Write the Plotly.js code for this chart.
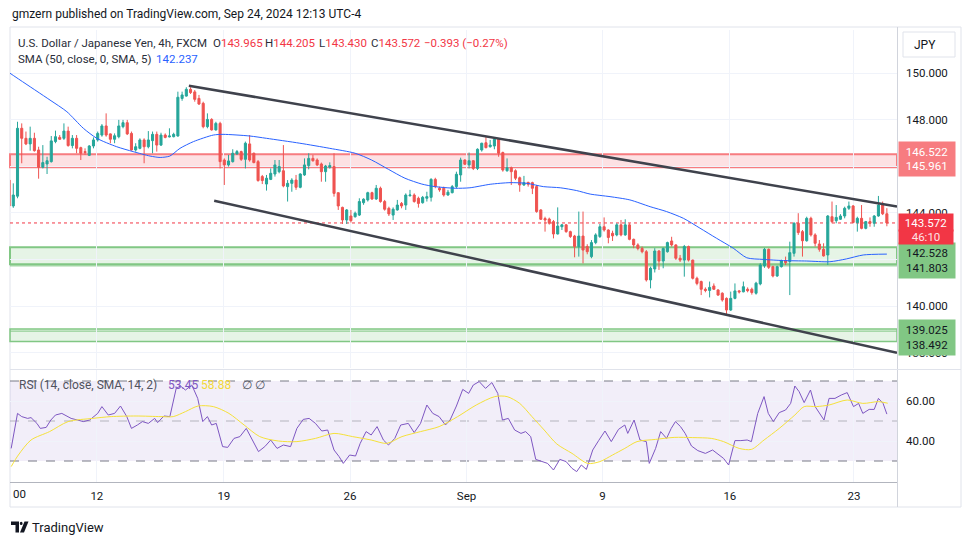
<!DOCTYPE html>
<html><head><meta charset="utf-8">
<script src="https://cdn.plot.ly/plotly-3.0.1.min.js"></script>
<style>html,body{margin:0;padding:0;background:#fff;}#chart{width:970px;height:545px;}</style>
</head><body><div id="chart"></div>
<script>
// ---------- DATA (USDJPY 4h, FXCM) ----------
const firstBar = -1; // first (partly hidden) candle index
const openP = [
145.41,144.30,144.72,147.63,147.20,146.96,147.20,146.70,145.96,146.10,
146.20,147.06,147.24,147.20,147.51,146.89,147.20,146.80,146.63,146.47,
146.87,147.13,147.34,147.73,147.39,147.16,147.27,147.70,147.87,147.41,
146.70,146.77,147.13,146.84,147.10,147.37,146.91,147.34,147.26,147.27,
147.30,148.91,149.01,149.30,149.19,148.91,148.70,147.70,148.01,147.56,
147.84,146.27,146.06,146.20,146.53,146.63,146.30,146.96,146.56,146.20,
145.56,145.24,145.44,145.67,145.77,145.81,145.13,145.27,145.41,145.10,
145.63,146.03,146.34,146.27,146.10,145.77,145.96,145.99,144.87,144.24,
143.70,143.87,143.84,143.91,144.44,144.56,144.87,144.60,145.06,144.49,
144.20,143.91,144.13,144.41,144.34,144.74,144.77,144.63,144.44,144.63,
144.67,145.44,145.06,145.06,144.77,144.87,145.13,145.63,146.27,146.06,
146.24,145.91,146.70,147.01,146.84,146.87,147.16,146.59,145.81,145.94,
145.81,145.51,145.20,145.31,145.30,145.13,144.13,143.76,143.74,143.63,
143.10,143.41,143.49,143.20,143.01,142.56,143.01,142.56,142.13,142.73,
142.99,143.41,143.27,143.13,143.06,143.49,143.06,143.49,142.87,142.63,
142.48,142.34,141.13,141.60,142.37,141.94,142.34,142.80,142.63,142.06,
141.98,142.56,141.98,141.20,141.06,140.73,140.68,140.87,140.70,140.56,
140.34,139.84,140.34,140.66,140.62,140.73,140.73,140.56,140.96,141.73,
142.44,141.70,141.30,141.70,141.96,141.92,142.27,143.56,143.20,142.81,
143.77,143.06,142.67,142.44,142.20,143.84,143.67,143.73,143.87,144.20,
144.30,143.59,143.77,143.34,143.63,143.56,143.87,144.34,143.965];
const highP = [
145.45,145.27,147.91,147.84,147.49,147.70,147.44,146.84,146.91,146.41,
147.30,147.53,147.34,147.84,147.70,147.34,147.34,146.84,146.77,146.91,
147.24,147.49,147.81,148.27,147.41,147.41,147.99,147.99,147.99,147.49,
146.99,147.20,147.20,147.51,147.49,147.49,147.44,147.41,147.63,147.44,
149.20,149.20,149.39,149.39,149.27,149.06,148.77,148.27,148.06,147.91,
147.91,146.34,146.49,146.73,146.70,146.67,147.06,147.34,146.59,146.27,
145.63,145.63,145.91,146.27,146.27,146.91,145.41,145.49,145.63,145.70,
146.34,146.56,146.49,146.34,146.16,146.06,146.17,146.56,144.87,144.27,
144.17,144.13,144.06,144.63,144.63,144.91,144.91,145.20,145.13,144.56,
144.27,144.24,144.56,144.47,144.84,144.99,144.84,144.70,144.73,144.91,
145.49,145.51,145.13,145.13,144.99,145.20,145.77,146.37,146.30,146.59,
146.27,146.77,147.01,147.27,147.13,147.20,147.20,146.63,146.34,145.99,
145.87,145.56,145.59,145.34,145.34,145.20,144.16,143.84,143.80,143.70,
144.24,143.53,143.53,143.24,143.06,144.06,144.06,142.66,142.84,143.13,
143.53,143.81,143.30,143.24,143.56,143.70,143.73,143.56,142.90,142.70,
142.56,142.41,141.70,142.49,142.41,142.52,142.77,142.98,142.66,142.20,
142.63,142.60,142.00,141.27,141.10,140.81,141.06,140.98,140.73,140.60,
140.38,140.63,140.98,140.70,141.06,140.81,140.80,141.05,141.85,142.50,
142.48,141.74,141.74,142.00,142.13,142.77,143.60,143.99,143.27,143.84,
143.84,143.13,142.84,142.70,143.91,144.49,144.34,143.95,144.27,144.49,
144.34,143.84,144.34,143.66,143.81,143.91,144.73,144.49,144.205];
const lowP = [
144.13,144.22,144.63,146.13,146.91,146.67,146.63,145.47,145.91,145.67,
146.16,146.99,147.13,147.13,146.84,146.77,146.56,146.27,146.49,146.44,
146.77,147.06,147.27,147.27,146.99,146.99,147.20,147.63,147.34,146.67,
146.63,146.73,146.13,146.77,146.56,146.63,146.87,147.20,147.24,147.24,
147.27,148.81,148.99,149.10,148.77,148.63,147.63,147.63,147.53,147.53,
145.91,145.20,145.99,146.16,146.49,146.23,145.91,146.20,146.13,145.34,
145.24,144.96,145.41,145.56,145.70,145.10,144.49,144.91,144.99,145.06,
145.59,145.87,146.20,146.01,145.34,145.34,145.90,144.70,144.13,143.53,
143.53,143.59,143.80,143.87,144.35,144.49,144.56,144.56,144.44,144.10,
143.87,143.70,144.10,144.20,144.13,144.70,144.44,144.23,144.40,144.49,
144.49,145.06,144.91,144.70,144.74,144.84,145.06,145.34,146.06,145.91,
145.84,145.84,146.63,146.77,146.80,146.73,146.41,145.77,145.77,145.20,
145.41,144.91,145.16,145.13,144.81,144.01,143.70,143.20,143.50,142.91,
143.08,143.27,143.15,142.93,142.10,142.13,141.84,142.23,142.06,142.66,
142.93,143.20,142.70,142.80,143.00,143.00,143.02,142.83,142.49,142.40,
142.27,141.06,140.77,141.45,141.56,141.63,142.30,142.56,141.99,141.90,
141.27,141.92,141.15,140.90,140.48,140.60,140.38,140.70,140.45,140.20,
139.63,139.80,140.30,140.55,140.60,140.60,140.50,140.50,140.90,141.65,
141.60,141.24,141.26,141.66,141.77,140.48,142.13,143.06,142.13,142.77,
142.99,142.56,142.34,142.13,141.77,143.56,143.56,143.70,143.77,144.13,
143.56,143.20,143.30,143.30,143.41,143.41,143.84,143.91,143.430];
const closeP = [
144.30,144.77,147.63,147.20,146.96,147.20,146.67,145.96,146.16,146.24,
147.09,147.27,147.16,147.51,146.89,147.20,146.77,146.56,146.59,146.87,
147.13,147.41,147.73,147.34,147.16,147.31,147.73,147.87,147.39,146.70,
146.84,147.13,146.84,147.13,147.37,146.91,147.34,147.24,147.30,147.37,
148.96,149.06,149.30,149.16,148.87,148.67,147.70,148.01,147.56,147.84,
146.20,146.06,146.23,146.56,146.63,146.30,146.99,146.27,146.16,145.39,
145.39,145.49,145.70,146.06,145.99,145.16,145.27,145.41,145.10,145.67,
146.06,146.34,146.24,146.06,145.77,146.01,146.03,144.84,144.30,143.70,
144.13,143.67,143.99,144.49,144.59,144.87,144.60,145.06,144.49,144.16,
143.96,144.16,144.34,144.30,144.77,144.77,144.49,144.41,144.67,144.70,
145.44,145.13,144.99,144.77,144.89,145.13,145.66,146.27,146.09,146.24,
145.91,146.73,146.99,146.80,146.91,147.16,146.56,145.84,145.94,145.77,
145.49,145.20,145.30,145.23,145.06,144.06,143.73,143.70,143.56,143.10,
143.44,143.49,143.20,142.99,142.56,143.01,142.41,142.34,142.73,143.06,
143.41,143.27,142.95,143.02,143.49,143.06,143.49,142.87,142.63,142.48,
142.34,141.13,141.63,142.37,141.94,142.48,142.73,142.63,142.06,141.98,
142.56,141.98,141.20,140.98,140.73,140.68,140.81,140.73,140.48,140.27,
139.84,140.34,140.66,140.62,140.84,140.67,140.59,140.99,141.77,142.44,
141.67,141.30,141.70,141.96,141.87,142.30,143.56,143.16,142.81,143.77,
143.06,142.70,142.44,142.16,143.87,143.63,143.81,143.87,144.20,144.30,
143.59,143.77,143.34,143.63,143.56,143.87,144.34,143.965,143.572];

// SMA(50): bar index / value
const smaX = [-0.78,1.6,8.7,12.7,16.6,19.8,24.5,28.4,32.4,34.8,37.1,39.5,42.7,47.4,49.7,56,60,67.9,75,81,84.9,88.9,92.8,96.8,99.9,104.7,108.2,113,117.7,121.7,125.6,129.6,133.5,136.7,141.4,146.1,150.9,154.8,158.8,162.7,166.6,170.6,173.8,177.7,182.5,188,193.5,197.4,201.4,207];
const smaVal = [149.99,149.70,148.84,148.34,147.63,147.20,146.84,146.63,146.44,146.38,146.44,146.77,147.06,147.34,147.37,147.30,147.20,146.99,146.77,146.56,146.27,145.87,145.49,145.24,145.13,145.06,145.08,145.23,145.30,145.27,145.13,145.08,144.96,144.81,144.70,144.56,144.27,144.06,143.77,143.35,142.92,142.49,142.08,142.01,141.96,141.94,141.91,142.03,142.20,142.237];

// RSI(14)
const rsiX = [-0.5,1,2,3.4,4.2,5.6,6.4,7.8,8.9,10,11.5,12.7,13.7,15.2,16.6,18.1,20,21,22.5,24,25.4,26.9,28,29.4,30.6,32,33.5,34.2,35.7,37.1,38.6,39.6,40.8,42.3,43.7,44.9,46,47,48.1,49.6,50.8,52.3,53.7,55.2,56.6,58.1,59.6,61,62.5,64,65.7,67.2,68.7,70.1,71.6,73.1,74.5,76,77.2,78.2,79.7,81.1,82.2,83.6,84.8,86.2,87.7,88.9,90.4,91.8,93.6,95,96.5,98,99.4,100.9,102.4,103.5,105,106.5,107.9,109,110.4,111.9,113.4,114.8,115.9,117.3,118.8,120.3,121.4,122.6,123.8,125.1,126.6,128,129.5,131,132.4,133.5,134.6,135.8,137.3,138.7,140.2,141.7,143.4,144.9,145.6,147.1,148.5,150,150.7,152.2,153.4,154.8,155.9,156.9,158.1,159.2,160.7,162.2,164,165.7,167.2,168.3,169.5,171,172.4,173.9,174.9,176.4,177.9,178.9,180.1,181.5,183,184.2,185.2,186.2,187.4,188.9,190,191.1,192.1,193.3,194.7,196.2,197.6,199.1,200.3,201.3,202.8,204,205,206.1,207];
const rsiVal = [36.3,53.8,52.2,51.3,51.7,48.8,46.3,46.8,50.5,53,53.8,52.5,51.3,50.5,49.7,50.5,53.8,57.2,53,53.8,57.5,52.2,46.3,48,49.7,48.8,51.3,49.2,52.5,52.2,66.3,67.5,65.5,68,61.3,49.7,52.2,48,48.8,37.2,36.8,41.3,42.2,46.3,40.5,34.7,37.2,40.5,36.3,38,37.2,46.3,50.8,51.3,48.8,45,45.5,35.5,32.2,28.8,33,32.5,38.8,44.7,43,47.2,40.5,38,41.3,48,48.8,44.2,48.8,58,53.8,52.2,48,50.5,57.5,65.8,63.8,68,69.7,66.3,69.2,63.8,50.5,51.3,45.5,43.8,44.7,42.2,30.8,29.7,28.8,25.5,30.8,29.7,26.3,24.7,28,25.8,35.5,40.2,45,39.7,45.8,48,43.8,50.5,40.5,39.7,28.8,36.3,44.7,41.3,46.3,49.7,47.2,43.8,37.5,35.2,33.8,35.5,33,31.3,28,40.2,40.2,40.5,39.7,53.8,62.2,53.8,49.7,54.2,55.5,58.8,67.5,64.7,59.2,65.5,57.2,53.8,50.5,61.3,61.3,63,64.2,57.2,58.8,53.8,55.8,55.8,61.3,58.8,53.45];
// RSI-based MA
const rsiMaX = [-0.5,1.2,4.2,8.6,13,18.8,23.2,29.1,35,37.9,40.8,43.8,47.4,51.1,54.7,58.4,62.8,67.2,71.6,76,80.4,84.8,88.5,92.1,96.5,100.9,105.3,109.7,114.1,117,120,122.9,125.8,128.8,132.4,136.1,139,142,144.9,147.8,152.2,156.6,161,165.4,168.3,172,174.9,177.9,181.5,185.2,187.4,190.3,193.3,197.6,201.3,205,207.2];
const rsiMaVal = [27.2,33,40.5,44.7,49.7,51.3,52.2,52.5,52.2,52.2,54.7,57.5,57.2,53.8,48,42.2,40,39.7,41.3,43.8,42.2,40.5,38.8,42.2,44.7,47.2,52.2,58,62.2,62.2,58.8,52.2,45.5,38.5,33.8,28.8,29.7,33,36.3,39.7,40.8,41.8,41.7,41.3,39.7,36.3,35.8,40.5,46.3,53,57.2,57.2,58,60.5,58.8,59.7,58.88];

// drawings
const resistanceZone = [145.961, 146.522];
const supportZone1 = [141.803, 142.528];
const supportZone2 = [138.492, 139.025];
const upperTrendX = [41.6, 209.4], upperTrendY = [149.456, 144.28];
const lowerTrendX = [47.6, 209.4], lowerTrendY = [144.526, 138.01];
const lastPrice = 143.572;
const barCountdown = '46:10';
const smaLast = 142.237;
const rsiLast = 53.45, rsiMaLast = 58.88;

// axes labels
const dayTickIdx = [19.8, 49.9, 79.8, 107.4, 139.6, 169.8, 199.2];
const dayTickText = ['12', '19', '26', 'Sep', '9', '16', '23'];
const priceTicks = [138, 140, 142, 144, 146, 148, 150];
const priceTickText = ['138.000', '140.000', '', '144.000', '', '148.000', '150.000'];
const rsiTicks = [40, 60];

// ---------- CHART ----------
const W = 970, H = 545;
const px = v => v / W;
const py = v => 1 - v / H;
const F = 'Roboto, "Noto Sans", sans-serif';
const GREEN = '#26a69a', RED = '#ef5350';

const barX = openP.map((_, i) => i + firstBar);

const traces = [
  {type: 'candlestick', x: barX, open: openP, high: highP, low: lowP, close: closeP,
   xaxis: 'x', yaxis: 'y', whiskerwidth: 0, hoverinfo: 'none', showlegend: false,
   increasing: {line: {color: GREEN, width: 1}, fillcolor: GREEN},
   decreasing: {line: {color: RED, width: 1}, fillcolor: RED}},
  {type: 'scatter', mode: 'lines', x: smaX, y: smaVal, xaxis: 'x', yaxis: 'y',
   line: {color: '#2962ff', width: 1, shape: 'spline', smoothing: 0.7}, hoverinfo: 'none'},
  {type: 'scatter', mode: 'lines', x: rsiX, y: rsiVal, xaxis: 'x', yaxis: 'y2',
   line: {color: '#7e57c2', width: 1}, hoverinfo: 'none'},
  {type: 'scatter', mode: 'lines', x: rsiMaX, y: rsiMaVal, xaxis: 'x', yaxis: 'y2',
   line: {color: '#f5e13a', width: 1, shape: 'spline', smoothing: 0.8}, hoverinfo: 'none'}
];

const hline = (yref, y, color, width, dash, layer) => ({type: 'line', xref: 'x domain', x0: 0, x1: 1, yref: yref, y0: y, y1: y, line: {color: color, width: width, dash: dash || 'solid'}, layer: layer || 'below'});
const P = (x, y) => px(x).toFixed(5) + ',' + py(y).toFixed(5);

const shapes = [
  // frame
  {type: 'rect', xref: 'paper', yref: 'paper', x0: px(10), x1: px(961), y0: py(507), y1: py(27), line: {color: '#e0e3eb', width: 1}, layer: 'below'},
  {type: 'line', xref: 'paper', yref: 'paper', x0: px(897.5), x1: px(897.5), y0: py(507), y1: py(27), line: {color: '#d1d4dc', width: 1}, layer: 'above'},
  {type: 'line', xref: 'paper', yref: 'paper', x0: px(10), x1: px(961), y0: py(369.5), y1: py(369.5), line: {color: '#e0e3eb', width: 1}, layer: 'above'},
  // zones
  {type: 'rect', xref: 'x domain', x0: 0, x1: 1, yref: 'y', y0: resistanceZone[0], y1: resistanceZone[1], fillcolor: 'rgba(242,54,69,0.15)', line: {color: '#f77c80', width: 2}, layer: 'below'},
  {type: 'rect', xref: 'x domain', x0: 0, x1: 1, yref: 'y', y0: supportZone1[0], y1: supportZone1[1], fillcolor: 'rgba(76,175,80,0.14)', line: {color: '#81c784', width: 2}, layer: 'below'},
  hline('y', supportZone1[0] - 0.07, '#81c784', 1),
  {type: 'rect', xref: 'x domain', x0: 0, x1: 1, yref: 'y', y0: supportZone2[0], y1: supportZone2[1], fillcolor: 'rgba(76,175,80,0.14)', line: {color: '#81c784', width: 1.5}, layer: 'below'},
  hline('y', supportZone2[1] - 0.09, '#81c784', 1),
  // last price
  hline('y', lastPrice, '#f23645', 1, 'dot', 'below'),
  // trend lines
  {type: 'line', xref: 'x', yref: 'y', x0: upperTrendX[0], x1: upperTrendX[1], y0: upperTrendY[0], y1: upperTrendY[1], line: {color: '#3f424c', width: 2.5}, layer: 'above'},
  {type: 'line', xref: 'x', yref: 'y', x0: lowerTrendX[0], x1: lowerTrendX[1], y0: lowerTrendY[0], y1: lowerTrendY[1], line: {color: '#3f424c', width: 2.5}, layer: 'above'},
  // RSI band
  {type: 'rect', xref: 'x domain', x0: 0, x1: 1, yref: 'y2', y0: 30, y1: 70, fillcolor: 'rgba(126,87,194,0.1)', line: {width: 0}, layer: 'below'},
  hline('y2', 70, '#787b86', 1, 'dash'),
  hline('y2', 50, 'rgba(120,123,134,0.5)', 1, 'dash'),
  hline('y2', 30, '#787b86', 1, 'dash'),
  // JPY button
  {type: 'rect', xref: 'paper', yref: 'paper', x0: px(903), x1: px(955), y0: py(57), y1: py(32), line: {color: '#e0e3eb', width: 1}, layer: 'above'},
  // TradingView logo
  {type: 'path', xref: 'paper', yref: 'paper', path: 'M' + P(11, 521.5) + 'L' + P(19, 521.5) + 'L' + P(19, 532.5) + 'L' + P(15.5, 532.5) + 'L' + P(15.5, 525) + 'L' + P(11, 525) + 'Z', fillcolor: '#131722', line: {width: 0}, layer: 'above'},
  {type: 'circle', xref: 'paper', yref: 'paper', x0: px(19.8), x1: px(22.6), y0: py(525), y1: py(521.8), fillcolor: '#131722', line: {width: 0}, layer: 'above'},
  {type: 'path', xref: 'paper', yref: 'paper', path: 'M' + P(24.5, 521.5) + 'L' + P(28.5, 521.5) + 'L' + P(24, 532.5) + 'L' + P(20, 532.5) + 'Z', fillcolor: '#131722', line: {width: 0}, layer: 'above'}
];

const txt = (x, y, text, size, color, extra) => Object.assign({xref: 'paper', yref: 'paper', x: px(x), y: py(y), xanchor: 'left', yanchor: 'middle', text: text, showarrow: false, font: {family: F, size: size, color: color}}, extra || {});
const red = s => '<span style="color:#f23645">' + s + '</span>';
const fmt3 = v => v.toFixed(3);
const chg = closeP[closeP.length - 1] - openP[openP.length - 1];
const chgPct = chg / openP[openP.length - 1] * 100;
const minus = v => (v < 0 ? '\u2212' : '+') + Math.abs(v).toFixed(3);

const label = (yMid, text, bg, fc, yshift, h, pad) => ({xref: 'paper', yref: 'y', x: px(898), y: yMid, xanchor: 'left', yanchor: 'middle', yshift: yshift || 0,
  text: text, showarrow: false, bgcolor: bg, width: 52, height: h, borderpad: pad, align: 'center', font: {family: F, size: 11.5, color: fc}});

const annotations = [
  txt(10, 14, 'gmzern published on TradingView.com, Sep 24, 2024 12:13 UTC-4', 12, '#131722'),
  txt(16, 43, 'U.S. Dollar / Japanese Yen, 4h, FXCM', 11.5, '#2a2e39'),
  txt(211, 43, 'O' + red(fmt3(openP[openP.length - 1])), 11.5, '#2a2e39'),
  txt(263, 43, 'H' + red(fmt3(highP[highP.length - 1])), 11.5, '#2a2e39'),
  txt(317, 43, 'L' + red(fmt3(lowP[lowP.length - 1])), 11.5, '#2a2e39'),
  txt(369, 43, 'C' + red(fmt3(closeP[closeP.length - 1])), 11.5, '#2a2e39'),
  txt(422, 43, red(minus(chg) + ' (' + (chgPct < 0 ? '\u2212' : '+') + Math.abs(chgPct).toFixed(2) + '%)'), 11.5, '#2a2e39'),
  txt(16, 59, 'SMA (50, close, 0, SMA, 5)', 11.5, '#2a2e39'),
  txt(154, 59, fmt3(smaLast), 11.5, '#2962ff'),
  txt(17, 385, 'RSI (14, close, SMA, 14, 2)', 12, '#50535e'),
  txt(166, 385, rsiLast.toFixed(2), 12, '#7e57c2'),
  txt(199, 385, rsiMaLast.toFixed(2), 12, '#f2d93a'),
  txt(240, 385, '\u2205 \u2205', 12, '#50535e'),
  txt(11, 494, '00', 11.5, '#131722'),
  txt(912, 45, 'JPY', 12, '#131722'),
  txt(30, 527, 'TradingView', 13, '#131722'),
  label((resistanceZone[0] + resistanceZone[1]) / 2, fmt3(resistanceZone[1]) + '<br>' + fmt3(resistanceZone[0]), '#f77c80', '#ffffff', 1.5, 30, 2),
  label((supportZone1[0] + supportZone1[1]) / 2, fmt3(supportZone1[1]) + '<br>' + fmt3(supportZone1[0]), '#81c784', '#131722', -5, 31, 2),
  label((supportZone2[0] + supportZone2[1]) / 2, fmt3(supportZone2[1]) + '<br>' + fmt3(supportZone2[0]), '#81c784', '#131722', -2, 31, 2),
  label(lastPrice, barCountdown, '#f23645', '#fde3e5', -14, 12, 1),
  label(lastPrice, fmt3(lastPrice), '#f23645', '#ffffff', 0, 15, 1)
];

const layout = {
  width: W, height: H, margin: {l: 0, r: 0, t: 0, b: 0},
  paper_bgcolor: '#ffffff', plot_bgcolor: 'rgba(0,0,0,0)', showlegend: false,
  font: {family: F, size: 11.5, color: '#131722'},
  xaxis: {domain: [px(10), px(897)], range: [-0.78, 209.4], anchor: 'y2', tickvals: dayTickIdx, ticktext: dayTickText,
    showgrid: true, gridcolor: '#f0f3fa', zeroline: false, showline: true, linecolor: '#b2b5be', linewidth: 1,
    ticks: '', tickfont: {size: 11.5, color: '#131722'}, rangeslider: {visible: false}, fixedrange: true, ticklabelstandoff: 3},
  yaxis: {domain: [py(368), py(30)], range: [137.355, 151.843], side: 'right', anchor: 'x', tickvals: priceTicks, ticktext: priceTickText,
    showgrid: true, gridcolor: '#f0f3fa', zeroline: false, ticks: '', tickfont: {size: 11.5, color: '#131722'}, ticklabelstandoff: 8, fixedrange: true},
  yaxis2: {domain: [py(482), py(370)], range: [19.5, 75.5], side: 'right', anchor: 'x', tickvals: rsiTicks, tickformat: '.2f',
    showgrid: true, gridcolor: '#f0f3fa', zeroline: false, ticks: '', tickfont: {size: 11.5, color: '#131722'}, ticklabelstandoff: 8, fixedrange: true},
  shapes: shapes, annotations: annotations, hovermode: false
};

Plotly.newPlot('chart', traces, layout, {displayModeBar: false, staticPlot: true});
</script></body></html>
